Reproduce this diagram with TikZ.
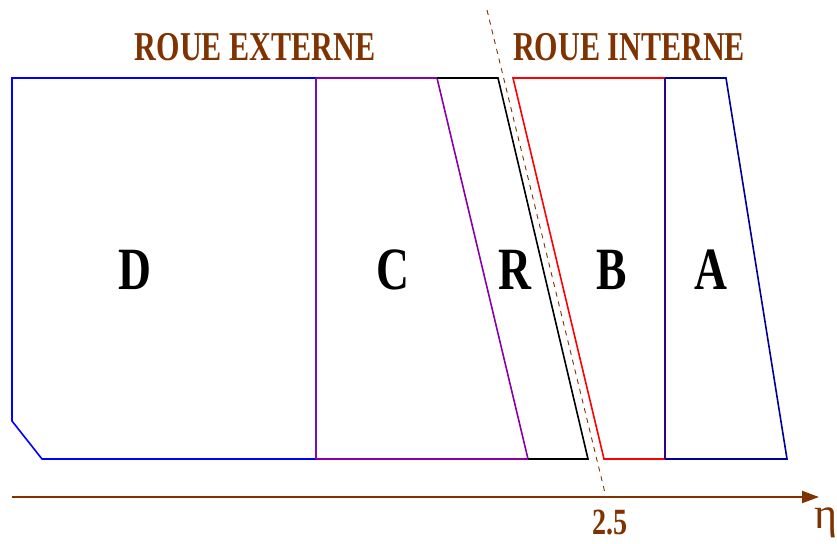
\documentclass[tikz,border=0pt]{standalone}
\usepackage{fontspec}
\usepackage{graphicx}
\setmainfont{Liberation Serif}
\usetikzlibrary{arrows.meta}
\definecolor{brn}{HTML}{803300}
\definecolor{cpurple}{HTML}{8800AA}
\definecolor{cviolet}{HTML}{7010C0}
\definecolor{aindigo}{HTML}{330088}
\definecolor{anavy}{HTML}{000099}
\tikzset{
  region/.style={line width=1.6pt, line join=miter},
  title/.style={text=brn, inner sep=0pt, font=\fontsize{41}{41}\selectfont\bfseries},
  zonelabel/.style={text=black, inner sep=0pt, font=\fontsize{60}{60}\selectfont\bfseries},
  axis/.style={brn, line width=2pt, -{Triangle[length=17pt,width=12pt]}},
  etaline/.style={brn, line width=0.9pt, dash pattern=on 5pt off 5pt},
}
\newcommand{\cnd}[1]{\scalebox{0.76}[1]{#1}}
\newcommand{\cndt}[1]{\scalebox{0.735}[1]{#1}}
\begin{document}
\begin{tikzpicture}[x=1pt,y=-1pt]
\useasboundingbox (0,0) rectangle (837,543);
% D
\draw[region, blue] (316,78) -- (12,78) -- (12,421) -- (42,459) -- (316,459);
% C
\draw[region, cpurple] (316,78) -- (437,78) -- (528,459) -- (316,459);
\draw[region, cviolet] (316,78) -- (316,459);
% R
\draw[region, black] (437,78) -- (498,78) -- (588,459) -- (528,459);
% B
\draw[region, red] (665,78) -- (513,78) -- (604,459) -- (665,459);
% A
\draw[region, anavy] (665,78) -- (726,78) -- (787,459) -- (665,459);
\draw[region, aindigo] (665,78) -- (665,459);
% dashed eta=2.5 line
\coordinate (e1) at (487,10);
\coordinate (e2) at (605,493);
\draw[etaline] (e1) -- (e2);
% axis
\coordinate (ax0) at (12,497);
\coordinate (ax1) at (819,497);
\draw[axis] (ax0) -- (ax1);
% titles
\node[title] (ext) at (255,47) {\cndt{ROUE EXTERNE}};
\node[title] (int) at (629,47) {\cndt{ROUE INTERNE}};
% zone labels
\node[zonelabel] (D) at (135,270) {\cnd{D}};
\node[zonelabel] (C) at (393,270) {\cnd{C}};
\node[zonelabel] (R) at (515,270) {\cnd{R}};
\node[zonelabel] (B) at (612,270) {\cnd{B}};
\node[zonelabel] (A) at (711,270) {\cnd{A}};
% axis labels
\node[text=brn, inner sep=0pt, font=\fontsize{37}{37}\selectfont\bfseries] (v) at (610,523) {\cnd{2.5}};
\node[text=brn, inner sep=0pt, font=\fontsize{44}{44}\selectfont] (eta) at (826,523) {η};
\end{tikzpicture}
\end{document}
